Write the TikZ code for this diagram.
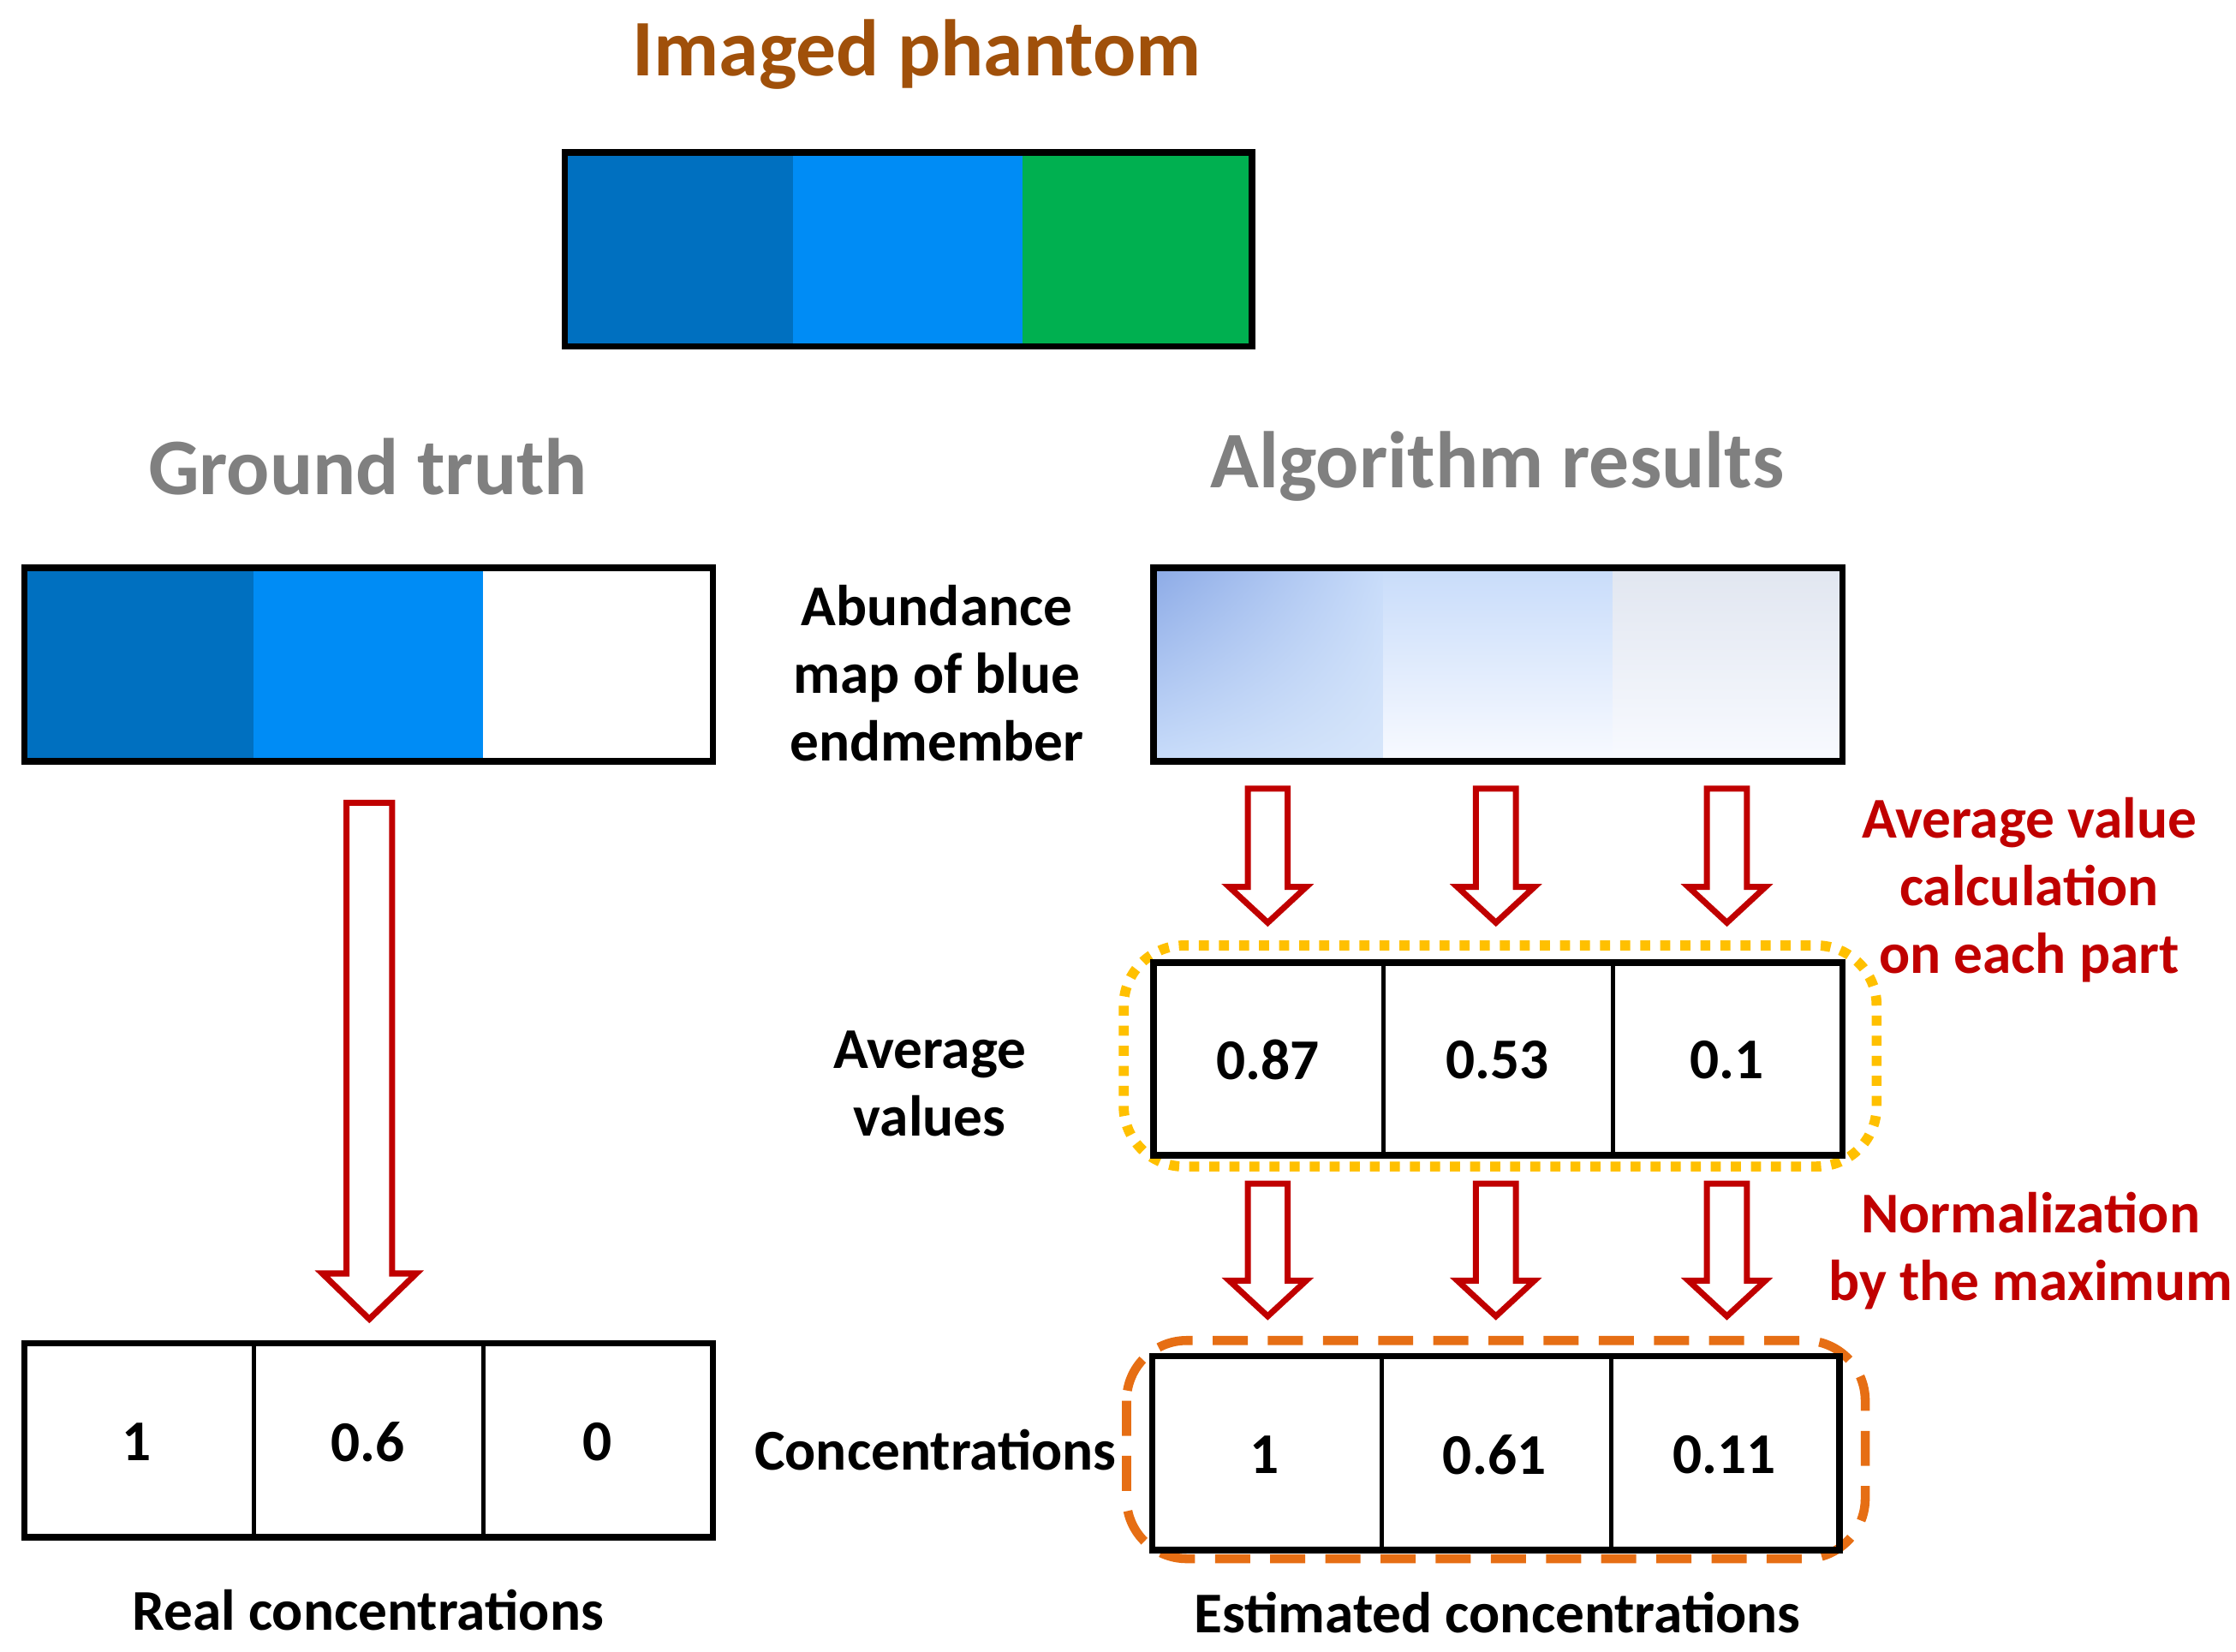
\documentclass[tikz,border=0pt]{standalone}
\usepackage{fontspec}
\setmainfont{Carlito}
\usetikzlibrary{shadings}
\begin{document}
\definecolor{dblue}{RGB}{0,112,192}
\definecolor{lblue}{RGB}{0,140,245}
\definecolor{pgreen}{RGB}{0,176,80}
\definecolor{brownt}{RGB}{160,80,10}
\definecolor{grayt}{RGB}{128,128,128}
\definecolor{redt}{RGB}{192,0,0}
\definecolor{s1}{RGB}{140,170,230}
\definecolor{s2}{RGB}{200,220,250}
\definecolor{s3}{RGB}{215,230,250}
\definecolor{s4}{RGB}{248,250,255}
\definecolor{s5}{RGB}{225,230,240}
\definecolor{dotc}{RGB}{255,192,0}
\definecolor{dashc}{RGB}{230,110,20}
\begin{tikzpicture}[x=0.01cm,y=-0.01cm,
  big/.style={font=\fontsize{16}{19}\selectfont\bfseries},
  txt/.style={font=\fontsize{11.5}{13.5}\selectfont\bfseries,align=center},
  val/.style={font=\fontsize{11.5}{13.5}\selectfont\bfseries},
  box/.style={draw=black,line width=1.3pt},
  cell/.style={draw=black,line width=0.8pt},
  rarrow/.style={draw=redt,line width=1.2pt,fill=white}]
\useasboundingbox (0,0) rectangle (1568,1158);
% title
\node[big,text=brownt] (t1) at (643,38) {Imaged phantom};
\fill[dblue] (396,107) rectangle (556,243);
\fill[lblue] (556,107) rectangle (717,243);
\fill[pgreen] (717,107) rectangle (878,243);
\draw[box] (396,107) rectangle (878,243);
\node[big,text=grayt] (t2) at (258,327) {Ground truth};
\node[big,text=grayt] (t3) at (1050,327) {Algorithm results};
% GT map
\fill[dblue] (17,398) rectangle (178,534);
\fill[lblue] (178,398) rectangle (339,534);
\draw[box] (17,398) rectangle (500,534);
\node[txt] (ab) at (657,472) {Abundance\\map of blue\\endmember};
% algo map
\shade[upper left=s1,lower right=s3,upper right=s2,lower left=s2] (809,398) rectangle (970,534);
\shade[top color=s2,bottom color=s4] (970,398) rectangle (1131,534);
\shade[top color=s5,bottom color=s4] (1131,398) rectangle (1292,534);
\draw[box] (809,398) rectangle (1292,534);
% big left arrow
\draw[rarrow] (243,563) -- (275,563) -- (275,893) -- (292,893) -- (259,925) -- (226,893) -- (243,893) -- cycle;
% small arrows
\foreach \c in {889,1049,1211}{
 \draw[rarrow] (\c-14,553) -- (\c+14,553) -- (\c+14,622) -- (\c+27,622) -- (\c,647) -- (\c-27,622) -- (\c-14,622) -- cycle;
 \draw[rarrow] (\c-14,830) -- (\c+14,830) -- (\c+14,898) -- (\c+27,898) -- (\c,923) -- (\c-27,898) -- (\c-14,898) -- cycle;
}
\node[txt,text=redt] (r1) at (1423,624) {Average value\\calculation\\on each part};
\node[txt,text=redt] (r2) at (1424,877) {Normalization\\by the maximum};
% avg box
\draw[dotc,line width=2pt,dotted,rounded corners=12] (788,663) rectangle (1316,818);
\draw[box] (809,675) rectangle (1292,810);
\draw[cell] (970,675) -- (970,810) (1131,675) -- (1131,810);
\node[val] (v1) at (889,743) {0.87};
\node[val] (v2) at (1050,743) {0.53};
\node[val] (v3) at (1211,743) {0.1};
\node[txt] (av) at (652,760) {Average\\values};
% GT values
\draw[box] (17,942) rectangle (500,1078);
\draw[cell] (178,942) -- (178,1078) (339,942) -- (339,1078);
\node[val] (g1) at (96,1011) {1};
\node[val] (g2) at (258,1011) {0.6};
\node[val] (g3) at (419,1011) {0};
% est
\draw[dashc,line width=1.8pt,dash pattern=on 7pt off 4pt,rounded corners=12] (790,940) rectangle (1308,1093);
\draw[box] (808,951) rectangle (1290,1087);
\draw[cell] (969,951) -- (969,1087) (1130,951) -- (1130,1087);
\node[val] (e1) at (887,1020) {1};
\node[val] (e2) at (1048,1020) {0.61};
\node[val] (e3) at (1209,1020) {0.11};
\node[txt] (cc) at (656,1017) {Concentrations};
\node[txt] (rc) at (258,1129) {Real concentrations};
\node[txt] (ec) at (1050,1131) {Estimated concentrations};
\end{tikzpicture}
\end{document}
